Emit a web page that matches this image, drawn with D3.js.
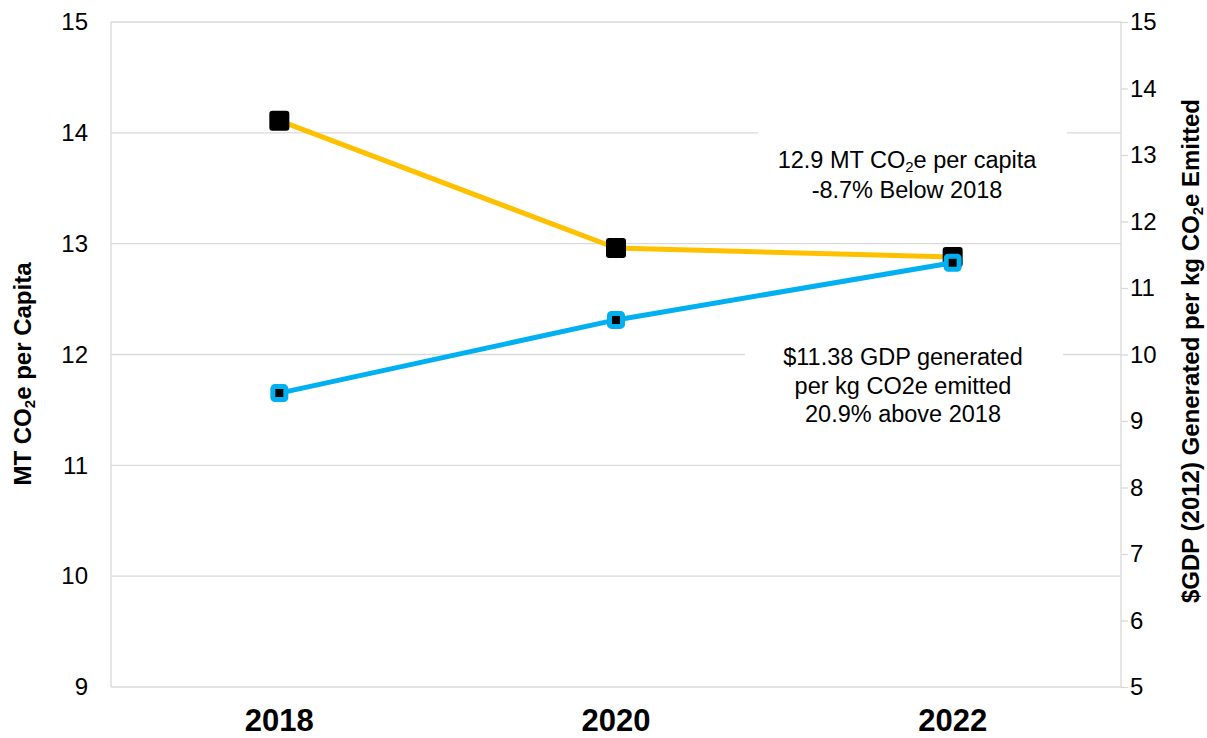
<!DOCTYPE html>
<html><head><meta charset="utf-8">
<script src="https://cdn.jsdelivr.net/npm/d3@7"></script>
<style>body{margin:0;background:#fff}svg{display:block;font-family:"Liberation Sans",Arial,sans-serif}</style>
</head><body><svg id="c" width="1207" height="738"></svg>
<script>
const years = ["2018","2020","2022"];
const co2PerCapita = [14.11, 12.96, 12.88];
const gdpPerKg = [9.42, 10.52, 11.38];
const leftTicks = [9,10,11,12,13,14,15];
const rightTicks = [5,6,7,8,9,10,11,12,13,14,15];

const svg = d3.select("#c");
const L=111, R=1121, T=22, B=687;
const x = d3.scaleBand().domain(years).range([L,R]);
const yL = d3.scaleLinear().domain([9,15]).range([B,T]);
const yR = d3.scaleLinear().domain([5,15]).range([B,T]);
const cx = d => x(d)+x.bandwidth()/2;

// gridlines
svg.append("g").selectAll("line").data(leftTicks).join("line")
  .attr("x1",L).attr("x2",R).attr("y1",d=>yL(d)).attr("y2",d=>yL(d))
  .attr("stroke","#d9d9d9").attr("stroke-width",1.3);
// axis lines
svg.append("line").attr("x1",L).attr("x2",L).attr("y1",T).attr("y2",B).attr("stroke","#d9d9d9").attr("stroke-width",1.3);
svg.append("line").attr("x1",R).attr("x2",R).attr("y1",T).attr("y2",B).attr("stroke","#d9d9d9").attr("stroke-width",1.3);

// left axis
const gl = svg.append("g").attr("transform",`translate(${L},0)`)
  .call(d3.axisLeft(yL).tickValues(leftTicks).tickFormat(d3.format("d")).tickSize(0).tickPadding(23));
gl.select(".domain").remove();
gl.selectAll("text").attr("font-size",24).attr("font-family","Liberation Sans, Arial").attr("fill","#000");

// right axis
const gr = svg.append("g").attr("transform",`translate(${R},0)`)
  .call(d3.axisRight(yR).tickValues(rightTicks).tickFormat(d3.format("d")).tickSize(7).tickPadding(2));
gr.select(".domain").remove();
gr.selectAll("line").attr("stroke","#d9d9d9").attr("stroke-width",1.3);
gr.selectAll("text").attr("font-size",24).attr("font-family","Liberation Sans, Arial").attr("fill","#000");

// x axis labels
const gx = svg.append("g").attr("transform",`translate(0,${B})`)
  .call(d3.axisBottom(x).tickSize(0).tickPadding(22));
gx.select(".domain").remove();
gx.selectAll("text").attr("font-size",31).attr("font-weight","bold").attr("font-family","Liberation Sans, Arial").attr("fill","#000");

// annotation boxes (white background breaking gridlines)
svg.append("rect").attr("x",758).attr("y",125).attr("width",309).attr("height",80).attr("fill","#fff");
svg.append("rect").attr("x",745).attr("y",340).attr("width",318).attr("height",100).attr("fill","#fff");

// lines
const lineL = d3.line().x((d,i)=>cx(years[i])).y(d=>yL(d));
const lineR = d3.line().x((d,i)=>cx(years[i])).y(d=>yR(d));
svg.append("path").attr("d",lineL(co2PerCapita)).attr("fill","none").attr("stroke","#FFC000").attr("stroke-width",5);
svg.selectAll(".mL").data(co2PerCapita).join("rect").attr("class","mL")
  .attr("x",(d,i)=>cx(years[i])-10).attr("y",d=>yL(d)-10).attr("width",20).attr("height",20)
  .attr("rx",3).attr("fill","#000");
svg.append("path").attr("d",lineR(gdpPerKg)).attr("fill","none").attr("stroke","#00B0F0").attr("stroke-width",5);
svg.selectAll(".mR").data(gdpPerKg).join("rect").attr("class","mR")
  .attr("x",(d,i)=>cx(years[i])-6.5).attr("y",d=>yR(d)-6.5).attr("width",13).attr("height",13)
  .attr("rx",2).attr("fill","#000").attr("stroke","#00B0F0").attr("stroke-width",5);

// annotations
const a1 = svg.append("text").attr("x",907).attr("y",168).attr("text-anchor","middle").attr("font-size",23.5);
a1.append("tspan").text("12.9 MT CO");
a1.append("tspan").text("2").attr("font-size",15).attr("dy",4);
a1.append("tspan").text("e per capita").attr("dy",-4);
svg.append("text").attr("x",907).attr("y",198).attr("text-anchor","middle").attr("font-size",23.5).text("-8.7% Below 2018");
["$11.38 GDP generated","per kg CO2e emitted","20.9% above 2018"].forEach((t,i)=>{
  svg.append("text").attr("x",903).attr("y",365+i*28.5).attr("text-anchor","middle").attr("font-size",23.5).text(t);
});

// axis titles
const t1 = svg.append("text").attr("transform","translate(31,374) rotate(-90)").attr("text-anchor","middle")
  .attr("font-size",24).attr("font-weight","bold");
t1.append("tspan").text("MT CO");
t1.append("tspan").text("2").attr("font-size",15).attr("dy",4);
t1.append("tspan").text("e per Capita").attr("dy",-4);
const t2 = svg.append("text").attr("transform","translate(1199,351) rotate(-90)").attr("text-anchor","middle")
  .attr("font-size",24).attr("font-weight","bold");
t2.append("tspan").text("$GDP (2012) Generated per kg CO");
t2.append("tspan").text("2").attr("font-size",15).attr("dy",4);
t2.append("tspan").text("e Emitted").attr("dy",-4);
</script></body></html>
